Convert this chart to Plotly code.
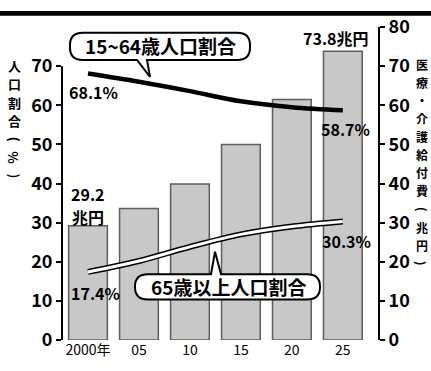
import plotly.graph_objects as go

years = ["2000年", "05", "10", "15", "20", "25"]
benefits = [29.2, 33.6, 39.9, 50.0, 61.5, 73.8]          # 医療・介護給付費 (兆円)
working_age = [68.1, 66.0, 63.6, 61.0, 59.5, 58.7]       # 15~64歳人口割合 (%)
elderly = [17.4, 20.2, 23.8, 27.0, 29.0, 30.3]           # 65歳以上人口割合 (%)
left_ticks = [0, 10, 20, 30, 40, 50, 60, 70]
right_ticks = [0, 10, 20, 30, 40, 50, 60, 70, 80]
left_title = ["人", "口", "割", "合", "(", "%", ")"]
right_title = ["医", "療", "・", "介", "護", "給", "付", "費", "(", "兆", "円", ")"]

W, H = 431, 371
L, R, T, B = 62, 378, 17, 350
FONT = "Noto Sans CJK JP"


def px(x, y):
    return (x - L) / (R - L), (B - y) / (B - T)


def P(x, y):
    a, b = px(x, y)
    return f"{a:.4f},{b:.4f}"


def rounded_box(x0, y0, x1, y1, r, tail):
    side, xa, xb, tx, ty = tail
    path = f"M {P(x0 + r, y0)}"
    if side == "top":
        path += f" L {P(xa, y0)} L {P(tx, ty)} L {P(xb, y0)}"
    path += f" L {P(x1 - r, y0)} Q {P(x1, y0)} {P(x1, y0 + r)}"
    path += f" L {P(x1, y1 - r)} Q {P(x1, y1)} {P(x1 - r, y1)}"
    if side == "bottom":
        path += f" L {P(xb, y1)} L {P(tx, ty)} L {P(xa, y1)}"
    path += f" L {P(x0 + r, y1)} Q {P(x0, y1)} {P(x0, y1 - r)}"
    path += f" L {P(x0, y0 + r)} Q {P(x0, y0)} {P(x0 + r, y0)} Z"
    return dict(type="path", path=path, xref="paper", yref="paper",
                fillcolor="white", line=dict(color="black", width=2), layer="above")


fig = go.Figure()
fig.add_trace(go.Bar(x=years, y=benefits, yaxis="y", width=0.76,
                     marker=dict(color="#c8c8c8", line=dict(color="#5e5e5e", width=1.5)),
                     showlegend=False))
fig.add_trace(go.Scatter(x=years, y=working_age, yaxis="y2", mode="lines",
                         line=dict(color="black", width=4.5, shape="spline"), showlegend=False))
fig.add_trace(go.Scatter(x=years, y=elderly, yaxis="y2", mode="lines",
                         line=dict(color="black", width=6, shape="spline"), showlegend=False))
fig.add_trace(go.Scatter(x=years, y=elderly, yaxis="y2", mode="lines",
                         line=dict(color="white", width=3, shape="spline"), showlegend=False))

shapes = []
a0, b0 = px(0, 0)
a1, b1 = px(W, 5)
shapes.append(dict(type="rect", xref="paper", yref="paper", x0=a0, x1=a1, y0=b1, y1=b0,
                   fillcolor="black", line=dict(width=0)))
shapes.append(dict(type="line", xref="paper", yref="y2", x0=0, x1=0, y0=0, y1=70,
                   line=dict(color="black", width=2)))
shapes.append(rounded_box(70, 23, 250, 52, 13, ("bottom", 137, 147, 150, 70)))
shapes.append(rounded_box(135, 280, 320, 307, 13, ("top", 211, 221, 215, 256)))

annotations = []


def text(t, x, y, size=16, xanchor="center", yanchor="middle", weight="bold", angle=0, pad=1):
    a, b = px(x, y)
    annotations.append(dict(text=t, x=a, y=b, xref="paper", yref="paper", showarrow=False,
                            xanchor=xanchor, yanchor=yanchor, textangle=angle, borderpad=pad,
                            font=dict(family=FONT, size=size, color="black", weight=weight)))


text("15~64歳人口割合", 160, 37, 19)
text("65歳以上人口割合", 228, 293, 19)
text("68.1%", 67, 86, 16, xanchor="left")
text("58.7%", 372, 125, 16, xanchor="right")
text("29.2", 88, 195, 16)
text("兆円", 88, 219, 16)
text("73.8兆円", 336, 29, 16)
text("17.4%", 69, 300, 16, xanchor="left")
text("30.3%", 373, 245, 16, xanchor="right")

for i, ch in enumerate(left_title):
    text(ch, 14, 58 + i * 19.5, 13, angle=90 if ch in "()%" else 0, pad=0)
for i, ch in enumerate(right_title):
    text(ch, 422, 57 + i * 19.2, 12, angle=90 if ch in "()" else 0, pad=0)

tickfont = dict(family=FONT, size=18, color="black", weight="bold")
fig.update_layout(
    width=W, height=H,
    margin=dict(l=L, r=W - R, t=T, b=H - B),
    paper_bgcolor="white", plot_bgcolor="white",
    xaxis=dict(type="category", range=[-0.51, 5.69], showline=False, showgrid=False, zeroline=False,
               ticks="", tickfont=dict(family=FONT, size=14, color="black")),
    yaxis=dict(range=[0, 80], tickvals=right_ticks, side="right", showgrid=False,
               zeroline=False, showline=True, linecolor="black", linewidth=2,
               ticks="outside", ticklen=5, tickwidth=1.5, tickcolor="black", tickfont=tickfont),
    yaxis2=dict(range=[0, 80], tickvals=left_ticks, overlaying="y", side="left", showgrid=False,
                zeroline=False, showline=False,
                ticks="outside", ticklen=5, tickwidth=1.5, tickcolor="black", tickfont=tickfont),
    shapes=shapes, annotations=annotations, bargap=0.2,
)
fig.write_html("out.html")
